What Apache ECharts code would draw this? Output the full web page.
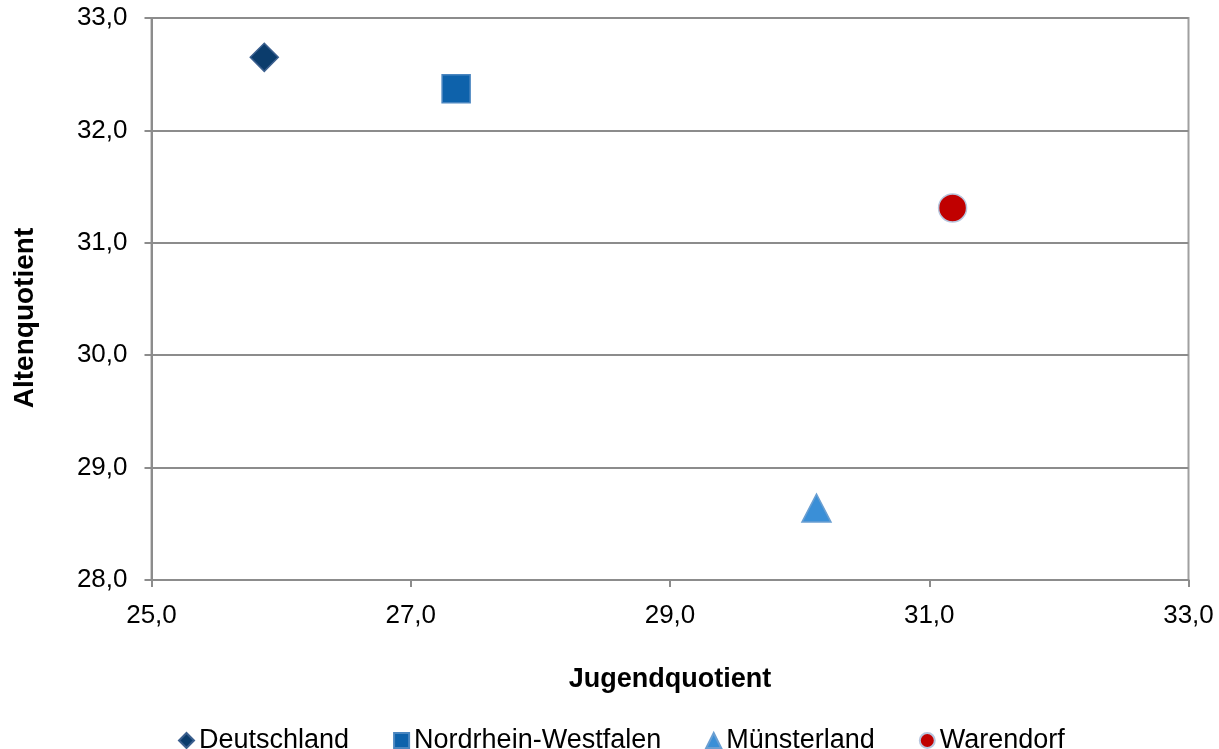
<!DOCTYPE html>
<html>
<head>
<meta charset="utf-8">
<script src="https://cdn.jsdelivr.net/npm/echarts@6/dist/echarts.min.js"></script>
<style>
html,body{margin:0;padding:0;background:#fff;}
#c{width:1219px;height:749px;}
</style>
</head>
<body>
<div id="c"></div>
<script>
const seriesNames = ['Deutschland', 'Nordrhein-Westfalen', 'Münsterland', 'Warendorf'];
const jugendquotient = [25.87, 27.35, 30.13, 31.18];
const altenquotient = [32.65, 32.37, 28.64, 31.31];
const xTicks = {min: 25, max: 33, interval: 2};
const yTicks = {min: 28, max: 33, interval: 1};
const xTitle = 'Jugendquotient';
const yTitle = 'Altenquotient';

const symbols = ['diamond', 'rect', 'triangle', 'circle'];
const fills = ['#0B3C6C', '#0E62AB', '#3A8FD7', '#C00000'];
const borders = ['#3B5F8E', '#4A86C0', '#6A9FD2', '#B7C6DE'];

const fmt = v => v.toFixed(1).replace('.', ',');
const FONT = '"Liberation Sans", Arial, sans-serif';

const chart = echarts.init(document.getElementById('c'), null, {renderer: 'canvas'});
chart.setOption({
  animation: false,
  backgroundColor: '#fff',
  textStyle: {fontFamily: FONT},
  grid: {left: 151.5, right: 30.5, top: 18, bottom: 169, show: true, borderColor: '#a0a0a0', borderWidth: 2},
  legend: {
    left: 173, top: 722,
    itemWidth: 15, itemHeight: 15, itemGap: 44,
    textStyle: {fontSize: 27, color: '#000', fontFamily: FONT},
    data: seriesNames
  },
  graphic: [{
    type: 'text',
    x: 25, y: 318,
    rotation: Math.PI / 2,
    style: {
      text: yTitle, fill: '#000',
      font: 'bold 28px "Liberation Sans", Arial, sans-serif',
      textAlign: 'center', textVerticalAlign: 'middle'
    }
  }],
  xAxis: {
    type: 'value', min: xTicks.min, max: xTicks.max, interval: xTicks.interval,
    name: xTitle, nameLocation: 'middle', nameGap: 86,
    nameTextStyle: {fontSize: 27, fontWeight: 'bold', color: '#000', fontFamily: FONT},
    axisLine: {show: true, lineStyle: {color: '#8c8c8c', width: 2}},
    axisTick: {show: true, inside: false, length: 7, lineStyle: {color: '#8c8c8c', width: 2}},
    axisLabel: {fontSize: 26, color: '#000', margin: 23, formatter: fmt, fontFamily: FONT},
    splitLine: {show: false}
  },
  yAxis: {
    type: 'value', min: yTicks.min, max: yTicks.max, interval: yTicks.interval,
    axisLine: {show: true, lineStyle: {color: '#8c8c8c', width: 2}},
    axisTick: {show: true, inside: false, length: 7, lineStyle: {color: '#8c8c8c', width: 2}},
    axisLabel: {fontSize: 26, color: '#000', margin: 24, formatter: fmt, fontFamily: FONT},
    splitLine: {show: true, lineStyle: {color: '#8c8c8c', width: 2}}
  },
  series: seriesNames.map((n, i) => ({
    name: n,
    type: 'scatter',
    symbol: symbols[i],
    symbolSize: i === 2 ? [29, 28] : 28,
    itemStyle: {color: fills[i], borderColor: borders[i], borderWidth: 1.5, opacity: 1},
    data: [[jugendquotient[i], altenquotient[i]]]
  }))
});
</script>
</body>
</html>
